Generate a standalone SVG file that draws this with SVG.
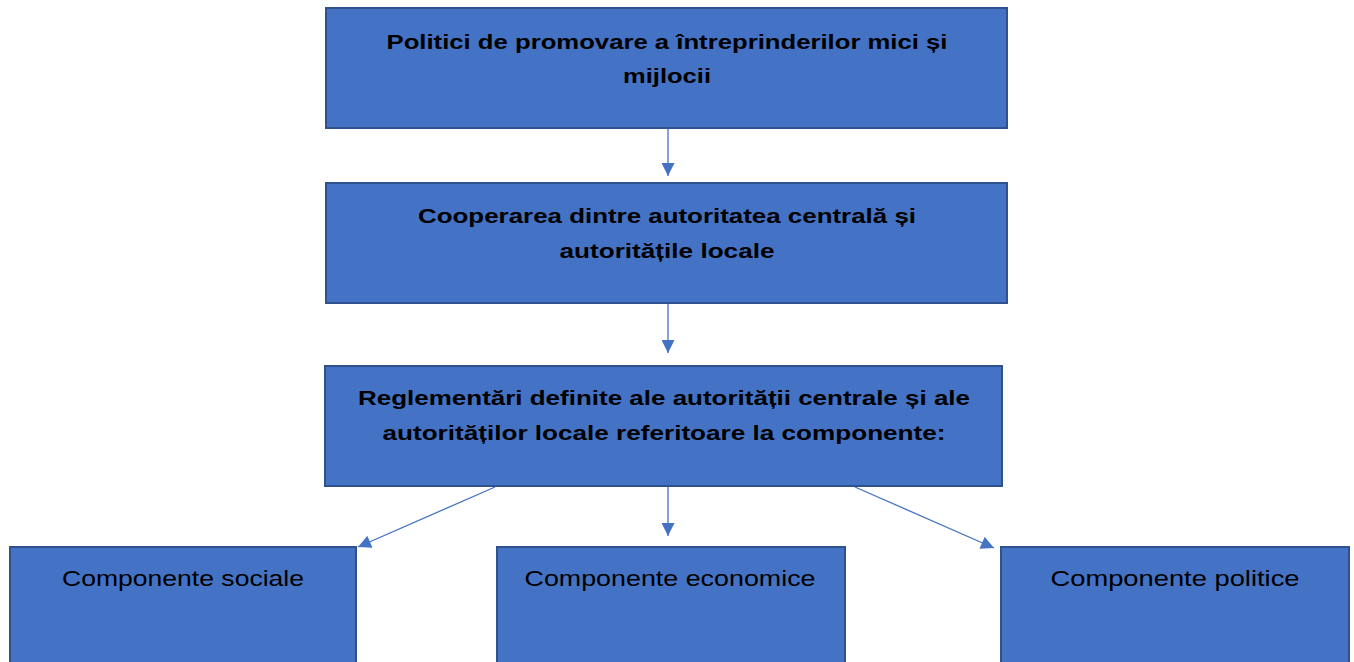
<svg xmlns="http://www.w3.org/2000/svg" width="1354" height="662" viewBox="0 0 1354 662">
<style>
.box{fill:#4472C4;stroke:#2F528F;stroke-width:2}
.b{font-family:"Liberation Sans",Arial,sans-serif;font-weight:bold;font-size:21px;fill:#000;text-anchor:middle}
.r{font-family:"Liberation Sans",Arial,sans-serif;font-size:22px;fill:#000;text-anchor:middle}
.c{stroke:#4472C4;stroke-width:1.3;fill:none}
</style>
<defs>
<marker id="ah" viewBox="0 0 10 10" refX="10" refY="5" markerWidth="14" markerHeight="13" markerUnits="userSpaceOnUse" orient="auto">
<path d="M0,0 L10,5 L0,10 Z" fill="#4472C4"/>
</marker>
</defs>
<rect width="1354" height="662" fill="#fff"/>
<g id="connectors">
<line class="c" x1="668" y1="129" x2="668" y2="176" marker-end="url(#ah)"/>
<line class="c" x1="668" y1="304" x2="668" y2="353" marker-end="url(#ah)"/>
<line class="c" x1="668" y1="487" x2="668" y2="536" marker-end="url(#ah)"/>
<line class="c" x1="495" y1="487" x2="358" y2="547" marker-end="url(#ah)"/>
<line class="c" x1="855" y1="487" x2="994" y2="548" marker-end="url(#ah)"/>
</g>
<g id="n1">
<rect class="box" x="326" y="8" width="681" height="120"/>
<text class="b" x="667" y="49" textLength="561" lengthAdjust="spacingAndGlyphs">Politici de promovare a întreprinderilor mici și</text>
<text class="b" x="667" y="83" textLength="88" lengthAdjust="spacingAndGlyphs">mijlocii</text>
</g>
<g id="n2">
<rect class="box" x="326" y="183" width="681" height="120"/>
<text class="b" x="667" y="223" textLength="498" lengthAdjust="spacingAndGlyphs">Cooperarea dintre autoritatea centrală și</text>
<text class="b" x="667" y="258" textLength="215" lengthAdjust="spacingAndGlyphs">autoritățile locale</text>
</g>
<g id="n3">
<rect class="box" x="325" y="366" width="677" height="120"/>
<text class="b" x="664" y="405" textLength="612" lengthAdjust="spacingAndGlyphs">Reglementări definite ale autorității centrale și ale</text>
<text class="b" x="664" y="440" textLength="563" lengthAdjust="spacingAndGlyphs">autorităților locale referitoare la componente:</text>
</g>
<g id="n4">
<rect class="box" x="10" y="547" width="346" height="125"/>
<text class="r" x="183" y="586" textLength="242" lengthAdjust="spacingAndGlyphs">Componente sociale</text>
</g>
<g id="n5">
<rect class="box" x="497" y="547" width="348" height="125"/>
<text class="r" x="670" y="586" textLength="291" lengthAdjust="spacingAndGlyphs">Componente economice</text>
</g>
<g id="n6">
<rect class="box" x="1001" y="547" width="348" height="125"/>
<text class="r" x="1175" y="586" textLength="249" lengthAdjust="spacingAndGlyphs">Componente politice</text>
</g>
</svg>
